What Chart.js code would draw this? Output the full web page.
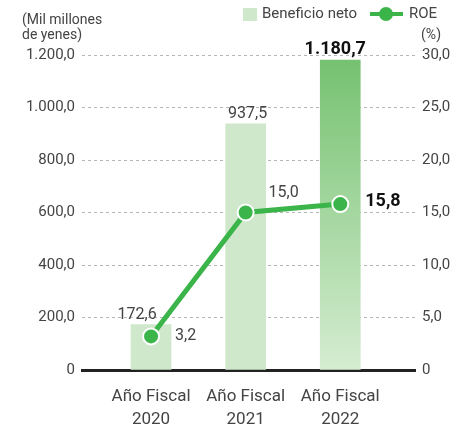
<!DOCTYPE html>
<html>
<head>
<meta charset="utf-8">
<script src="https://cdn.jsdelivr.net/npm/chart.js@4"></script>
<style>
  html, body { margin: 0; padding: 0; background: #fff; }
  #wrap { width: 451px; height: 430px; }
</style>
</head>
<body>
<div id="wrap"><canvas id="chart" width="451" height="430"></canvas></div>
<script>
// chart data
const years = ["2020", "2021", "2022"];
const categoryLabel = "Año Fiscal";
const netIncome = [172.6, 937.5, 1180.7];
const roe = [3.2, 15.0, 15.8];
const leftTicks = [0, 200, 400, 600, 800, 1000, 1200];
const rightTicks = [0, 5, 10, 15, 20, 25, 30];

const FONT = "Roboto, 'Noto Sans', sans-serif";
const TEXT = "#444";
const GREEN = "#3bb44a";
const LIGHT = "#cfe8cb";

// spanish number format: 1.200,0
const fmt = (v) => {
  if (v === 0) return "0";
  const [i, d] = v.toFixed(1).split(".");
  return i.replace(/\B(?=(\d{3})+(?!\d))/g, ".") + "," + d;
};

const barData = netIncome.map((v, i) => ({ x: i, y: v }));
const lineData = roe.map((v, i) => ({ x: i, y: v }));

const barColor = (ctx) => {
  if (ctx.dataIndex !== 2) return LIGHT;
  const area = ctx.chart.chartArea;
  if (!area) return LIGHT;
  const g = ctx.chart.ctx.createLinearGradient(0, area.top, 0, area.bottom);
  g.addColorStop(0, "#74c16f");
  g.addColorStop(1, "#d5ecd1");
  return g;
};

// labels, legend and axis titles
const extras = {
  id: "extras",
  afterDatasetsDraw(chart) {
    const c = chart.ctx;
    const bars = chart.getDatasetMeta(0).data;
    const pts = chart.getDatasetMeta(1).data;
    c.save();
    c.textAlign = "center";
    c.textBaseline = "alphabetic";
    const barShift = [-14, 2, -5];
    bars.forEach((b, i) => {
      const last = i === bars.length - 1;
      c.font = (last ? "bold 18px " : "16px ") + FONT;
      c.fillStyle = last ? "#111" : TEXT;
      c.fillText(fmt(netIncome[i]), b.x + barShift[i], b.y - 6);
    });
    c.textBaseline = "middle";
    pts.forEach((p, i) => {
      if (i === 0) {
        c.font = "16px " + FONT; c.fillStyle = TEXT; c.textAlign = "left";
        c.fillText(fmt(roe[i]), p.x + 24, p.y);
      } else if (i === 1) {
        c.font = "16px " + FONT; c.fillStyle = TEXT; c.textAlign = "center";
        c.fillText(fmt(roe[i]), p.x + 38, p.y - 20);
      } else {
        c.font = "bold 18px " + FONT; c.fillStyle = "#111"; c.textAlign = "left";
        c.fillText(fmt(roe[i]), p.x + 25, p.y - 3);
      }
    });
    c.restore();
  },
  afterDraw(chart) {
    const c = chart.ctx;
    c.save();
    c.fillStyle = TEXT;
    c.font = "14px " + FONT;
    c.textAlign = "left";
    c.textBaseline = "middle";
    c.fillText("(Mil millones", 22, 20);
    c.fillText("de yenes)", 22, 35);
    c.textAlign = "right";
    c.fillText("(%)", 441, 35);
    // legend
    c.fillStyle = LIGHT;
    c.fillRect(243, 8, 14, 13);
    c.fillStyle = TEXT;
    c.textAlign = "left";
    c.font = "15px " + FONT;
    c.fillText("Beneficio neto", 262, 14);
    c.strokeStyle = GREEN;
    c.lineWidth = 4;
    c.beginPath(); c.moveTo(370, 14); c.lineTo(403, 14); c.stroke();
    c.fillStyle = GREEN;
    c.beginPath(); c.arc(386, 14, 7, 0, Math.PI * 2); c.fill();
    c.fillStyle = TEXT;
    c.fillText("ROE", 409, 14);
    c.restore();
  }
};

new Chart(document.getElementById("chart"), {
  data: {
    datasets: [
      {
        type: "bar",
        label: "Beneficio neto",
        data: barData,
        backgroundColor: barColor,
        barThickness: 40,
        yAxisID: "y",
        order: 1
      },
      {
        type: "line",
        label: "ROE",
        data: lineData,
        borderColor: GREEN,
        borderWidth: 5,
        pointRadius: 8,
        pointBackgroundColor: GREEN,
        pointBorderColor: "#fff",
        pointBorderWidth: 2,
        yAxisID: "y1",
        order: 0
      }
    ]
  },
  options: {
    responsive: false,
    animation: false,
    layout: { padding: { top: 55, left: 0, right: 0, bottom: 0 } },
    plugins: {
      legend: { display: false },
      tooltip: { enabled: false }
    },
    scales: {
      x: {
        type: "linear",
        offset: false,
        min: -0.73,
        max: 2.79,
        afterBuildTicks: (s) => { s.ticks = years.map((_, i) => ({ value: i })); },
        afterFit: (s) => { s.height = 60; },
        grid: { display: false },
        border: { display: true, color: "#222", width: 3 },
        ticks: {
          padding: 7,
          color: TEXT,
          font: { family: FONT, size: 17, lineHeight: 1.35 },
          callback: (v) => [categoryLabel, years[v]]
        }
      },
      y: {
        position: "left",
        min: 0,
        max: 1200,
        afterBuildTicks: (s) => { s.ticks = leftTicks.map((v) => ({ value: v })); },
        afterFit: (s) => { s.width = 82; },
        grid: { color: "#b5b5b5", lineWidth: 1, drawTicks: false },
        border: { display: false, dash: [3, 3] },
        ticks: {
          padding: 7,
          color: TEXT,
          font: { family: FONT, size: 15 },
          callback: (v) => fmt(v)
        }
      },
      y1: {
        position: "right",
        min: 0,
        max: 30,
        afterBuildTicks: (s) => { s.ticks = rightTicks.map((v) => ({ value: v })); },
        afterFit: (s) => { s.width = 36; },
        grid: { drawOnChartArea: false, drawTicks: false },
        border: { display: false },
        ticks: {
          padding: 7,
          color: TEXT,
          font: { family: FONT, size: 15 },
          callback: (v) => fmt(v)
        }
      }
    }
  },
  plugins: [extras]
});
</script>
</body>
</html>
